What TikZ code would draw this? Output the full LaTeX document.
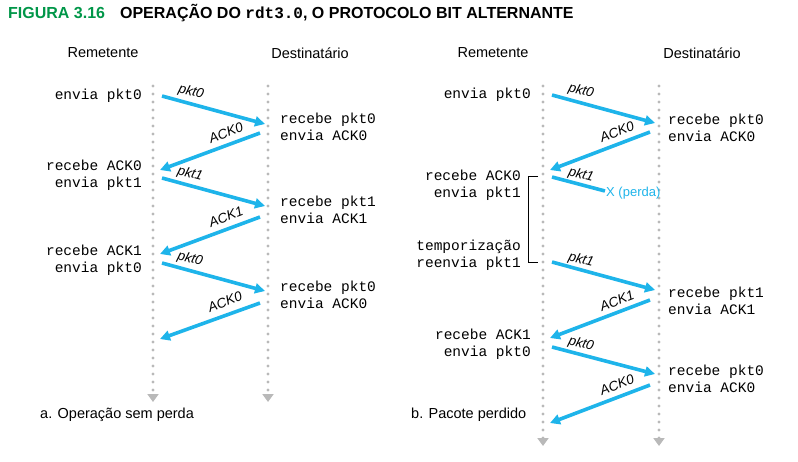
\documentclass[tikz,border=0pt]{standalone}
\usepackage{fontspec}
\setmainfont{Liberation Sans}
\setsansfont{Liberation Sans}
\setmonofont{Liberation Mono}
\usetikzlibrary{arrows.meta}
\definecolor{pktblue}{RGB}{30,180,234}
\definecolor{figgreen}{RGB}{0,150,72}
\definecolor{lifegray}{RGB}{185,185,185}
\begin{document}
\begin{tikzpicture}[x=1pt,y=-1pt,
    life/.style={lifegray,line width=3.4pt,line cap=round,dash pattern=on 0pt off 8pt,
      -{Triangle[length=8pt,width=11pt,line cap=butt]}},
    msg/.style={pktblue,line width=3.6pt,-{Triangle[length=10pt,width=10pt]}},
    lbl/.style={font=\fontsize{13.5}{15}\selectfont\itshape,inner sep=0pt},
    host/.style={font=\fontsize{14.5}{17}\selectfont,inner sep=0pt},
    sndr/.style={font=\fontsize{14.5}{16.5}\selectfont\ttfamily,align=right,anchor=east,inner sep=0pt},
    rcvr/.style={font=\fontsize{14.5}{16.5}\selectfont\ttfamily,align=left,anchor=west,inner sep=0pt},
    capt/.style={font=\fontsize{14.5}{17}\selectfont,anchor=west,inner sep=0pt}]
  \useasboundingbox (0,0) rectangle (798,461);
  % titulo
  \node[anchor=west,inner sep=0pt,font=\fontsize{16}{18}\selectfont\bfseries] (title) at (8,13)
    {\textcolor{figgreen}{FIGURA 3.16}\hspace{15pt}OPERAÇÃO DO \texttt{rdt3.0}, O PROTOCOLO BIT ALTERNANTE};
  % a. operacao sem perda
  \node[host] (remA) at (103,53) {Remetente};
  \node[host] (desA) at (310,53) {Destinatário};
  \coordinate (sA0) at (153,86);  \coordinate (sA1) at (153,402);
  \coordinate (rA0) at (268,86);  \coordinate (rA1) at (268,402);
  \draw[life] (sA0) -- (sA1);
  \draw[life] (rA0) -- (rA1);
  \node[sndr] (sa1) at (142,96) {envia pkt0};
  \node[rcvr] (ra1) at (280,127) {recebe pkt0\\envia ACK0};
  \node[sndr] (sa2) at (142,175) {recebe ACK0\\envia pkt1};
  \node[rcvr] (ra2) at (280,210) {recebe pkt1\\envia ACK1};
  \node[sndr] (sa3) at (142,260) {recebe ACK1\\envia pkt0};
  \node[rcvr] (ra3) at (280,295) {recebe pkt0\\envia ACK0};
  \coordinate (a1) at (162,96);  \coordinate (a2) at (265,124);
  \coordinate (a3) at (260,133); \coordinate (a4) at (160,170);
  \coordinate (a5) at (162,178); \coordinate (a6) at (265,206);
  \coordinate (a7) at (260,217); \coordinate (a8) at (160,254);
  \coordinate (a9) at (162,263); \coordinate (a10) at (265,291);
  \coordinate (a11) at (260,303);\coordinate (a12) at (160,339);
  \draw[msg] (a1) -- (a2);
  \draw[msg] (a3) -- (a4);
  \draw[msg] (a5) -- (a6);
  \draw[msg] (a7) -- (a8);
  \draw[msg] (a9) -- (a10);
  \draw[msg] (a11) -- (a12);
  \node[lbl,rotate=-15] (la1) at (191,92) {pkt0};
  \node[lbl,rotate=21] (la2) at (226,133) {ACK0};
  \node[lbl,rotate=-15] (la3) at (190,174) {pkt1};
  \node[lbl,rotate=21] (la4) at (226,217) {ACK1};
  \node[lbl,rotate=-15] (la5) at (190,259) {pkt0};
  \node[lbl,rotate=21] (la6) at (225,302) {ACK0};
  \node[capt] (capA) at (40,415) {a. Operação sem perda};
  % b. pacote perdido
  \node[host] (remB) at (493,53) {Remetente};
  \node[host] (desB) at (702,53) {Destinatário};
  \coordinate (sB0) at (543,86);  \coordinate (sB1) at (543,446);
  \coordinate (rB0) at (659,86);  \coordinate (rB1) at (659,446);
  \draw[life] (sB0) -- (sB1);
  \draw[life] (rB0) -- (rB1);
  \node[sndr] (sb1) at (531,95) {envia pkt0};
  \node[rcvr] (rb1) at (668,128) {recebe pkt0\\envia ACK0};
  \node[sndr] (sb2) at (521,185) {recebe ACK0\\envia pkt1};
  \node[sndr] (sb3) at (521,255) {temporização\\reenvia pkt1};
  \node[rcvr] (rb2) at (668,301) {recebe pkt1\\envia ACK1};
  \node[sndr] (sb4) at (531,344) {recebe ACK1\\envia pkt0};
  \node[rcvr] (rb3) at (668,379) {recebe pkt0\\envia ACK0};
  \coordinate (b1) at (552,95);  \coordinate (b2) at (655,123);
  \coordinate (b3) at (650,132); \coordinate (b4) at (550,170);
  \coordinate (b5) at (552,177); \coordinate (b6) at (605,191);
  \coordinate (b7) at (552,262); \coordinate (b8) at (655,290);
  \coordinate (b9) at (650,300); \coordinate (b10) at (550,338);
  \coordinate (b11) at (552,347);\coordinate (b12) at (655,374);
  \coordinate (b13) at (650,385);\coordinate (b14) at (550,423);
  \draw[msg] (b1) -- (b2);
  \draw[msg] (b3) -- (b4);
  \draw[msg,-] (b5) -- (b6);
  \draw[msg] (b7) -- (b8);
  \draw[msg] (b9) -- (b10);
  \draw[msg] (b11) -- (b12);
  \draw[msg] (b13) -- (b14);
  \node[anchor=west,inner sep=0pt,pktblue,font=\fontsize{13}{15}\selectfont] (lost) at (606,193) {X (perda)};
  \node[lbl,rotate=-15] (lb1) at (581,91) {pkt0};
  \node[lbl,rotate=21] (lb2) at (617,132) {ACK0};
  \node[lbl,rotate=-15] (lb3) at (581,175) {pkt1};
  \node[lbl,rotate=-15] (lb4) at (581,260) {pkt1};
  \node[lbl,rotate=21] (lb5) at (617,301) {ACK1};
  \node[lbl,rotate=-15] (lb6) at (581,344) {pkt0};
  \node[lbl,rotate=21] (lb7) at (617,385) {ACK0};
  \coordinate (tm0) at (538,176); \coordinate (tm1) at (538,262);
  \draw[line width=0.8pt] (tm0) -- ++(-10,0) |- (tm1);
  \node[capt] (capB) at (411,415) {b. Pacote perdido};
\end{tikzpicture}
\end{document}
